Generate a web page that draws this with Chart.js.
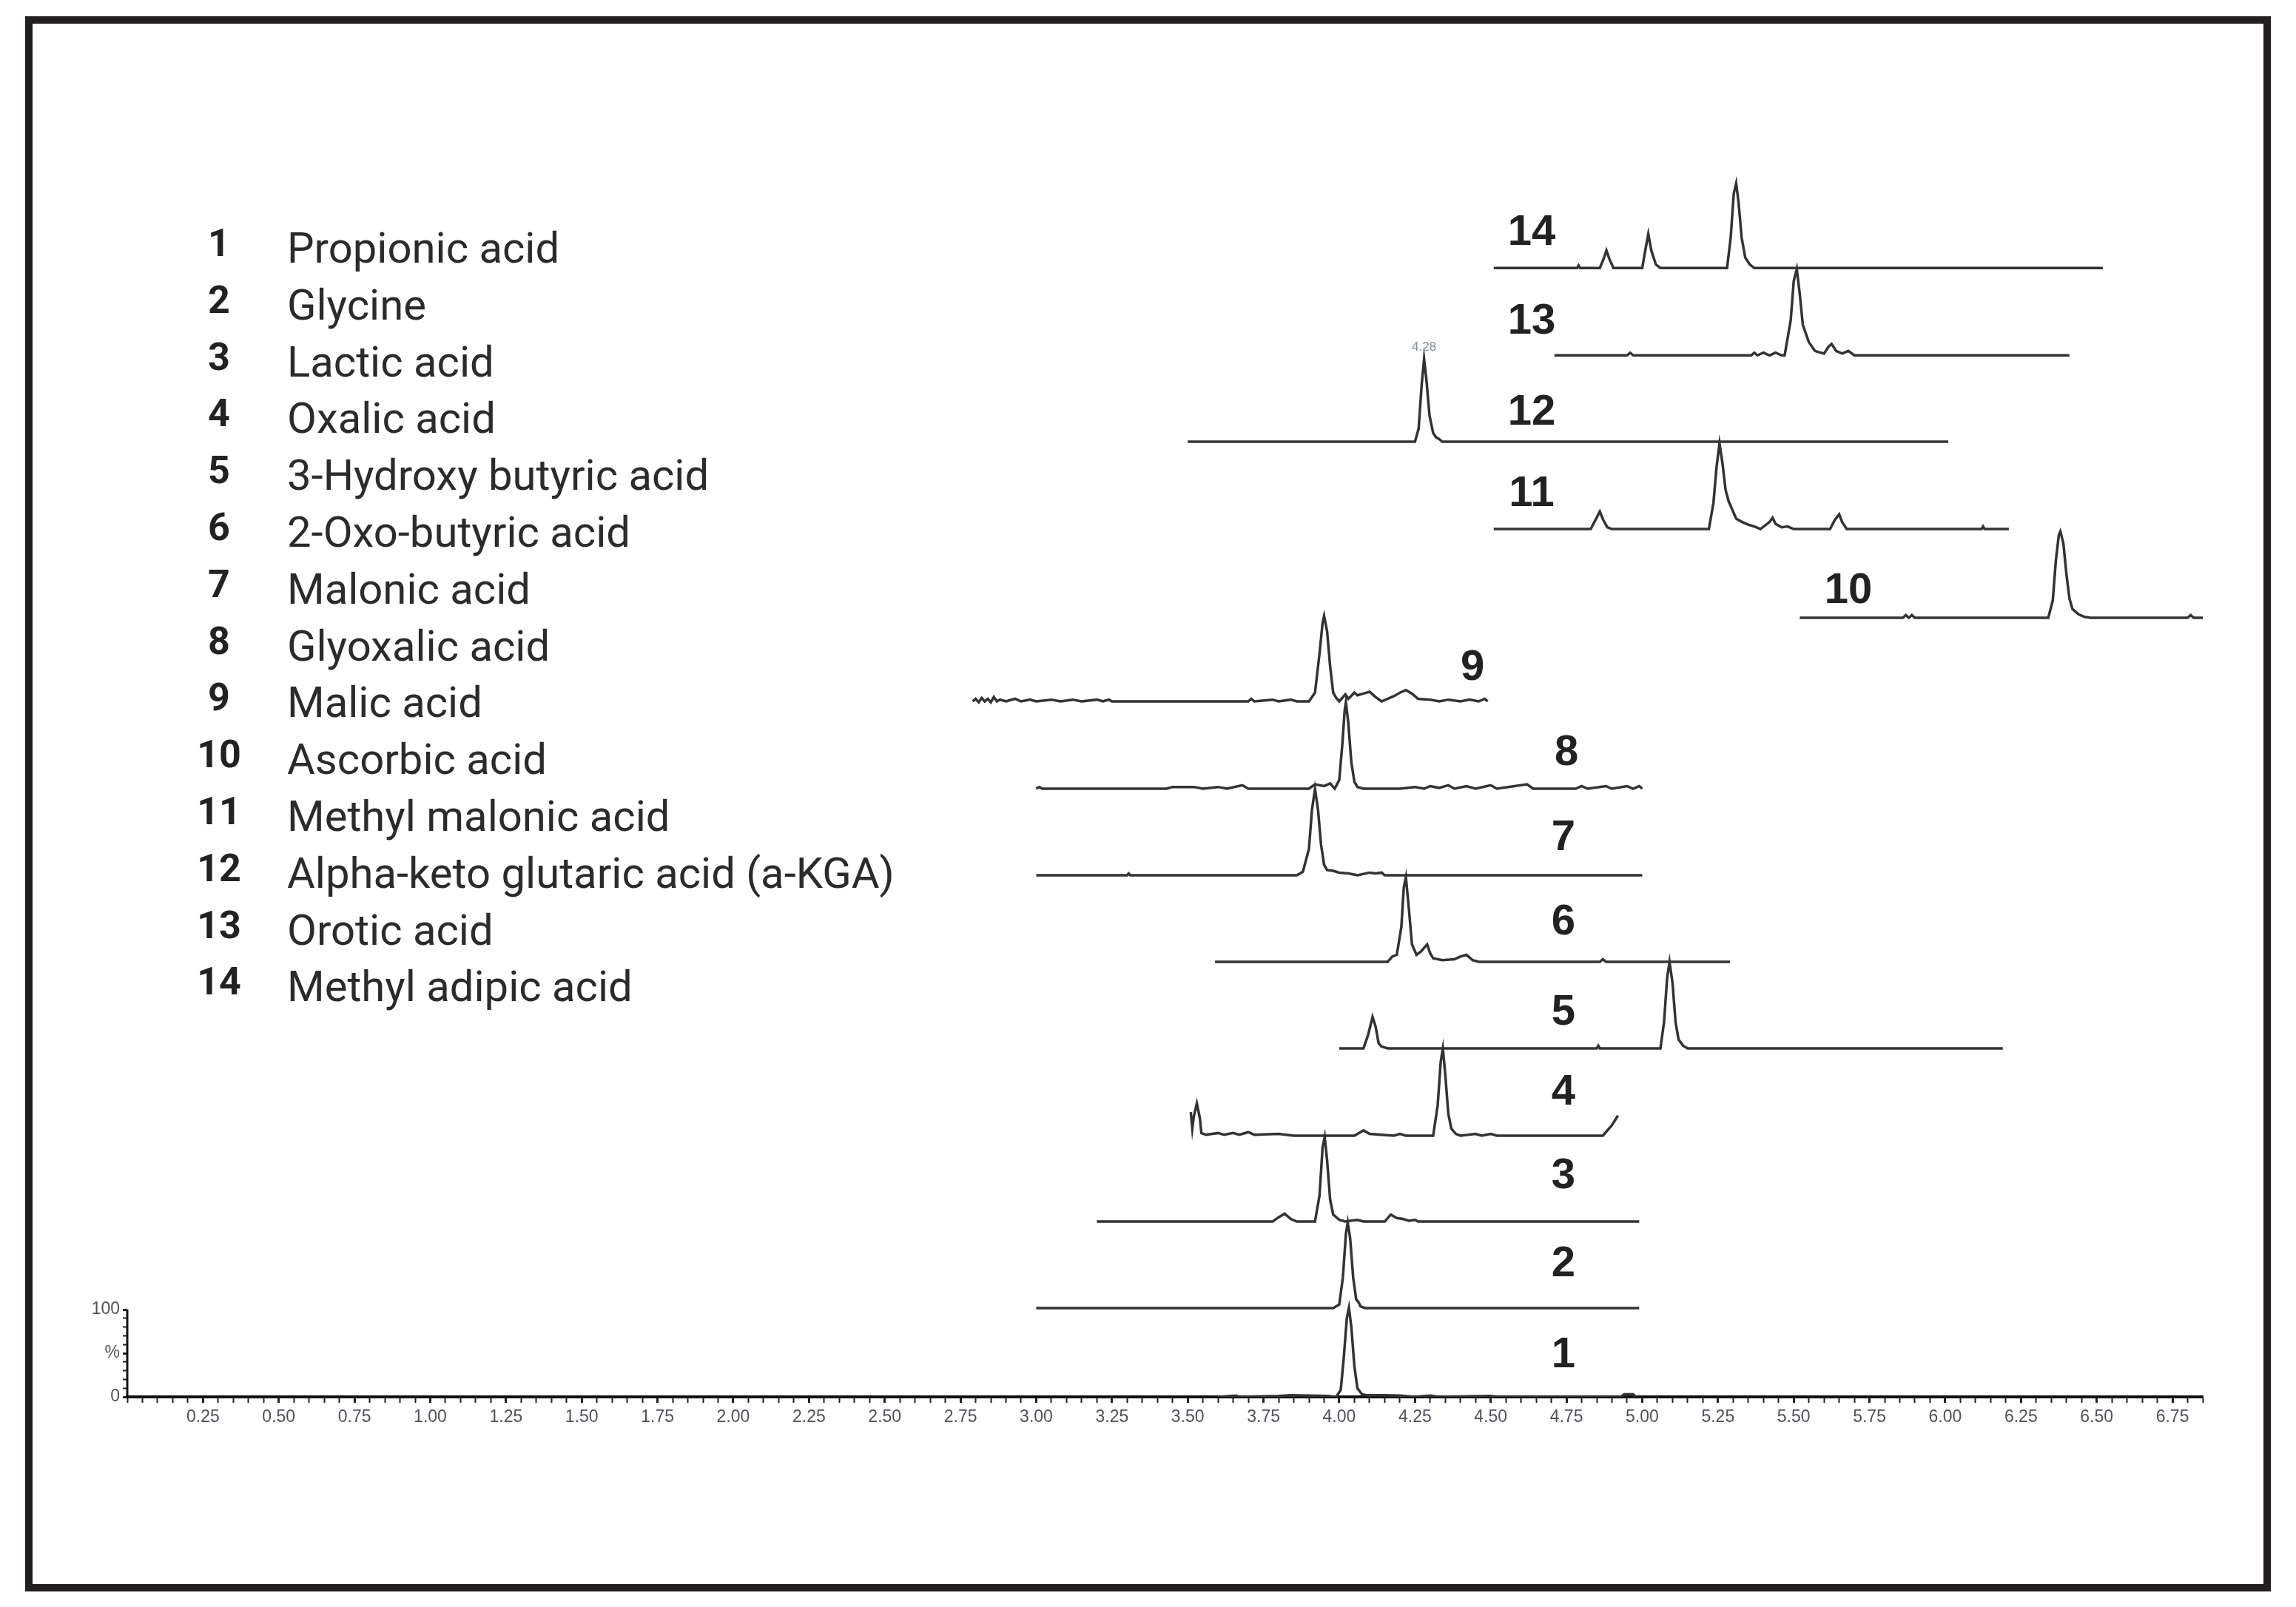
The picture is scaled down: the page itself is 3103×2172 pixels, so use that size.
<!DOCTYPE html>
<html>
<head>
<meta charset="utf-8">
<title>Organic acid chromatograms</title>
<script src="https://cdn.jsdelivr.net/npm/chart.js@4.4.1/dist/chart.umd.min.js"></script>
<style>
  html, body { margin: 0; padding: 0; background: #fff; }
  #frame { position: absolute; left: 34px; top: 22px; width: 3035px; height: 2129px; box-sizing: border-box; border: 10px solid #231f20; }
  #wrap { position: absolute; left: 0; top: 0; width: 3103px; height: 2172px; }
  .num { position: absolute; left: 246px; width: 100px; text-align: center; font: bold 52px Roboto, sans-serif; line-height: 52px; color: #222; white-space: nowrap; }
  .name { position: absolute; left: 388px; font: 58px Roboto, sans-serif; line-height: 58px; color: #2b2b2b; white-space: nowrap; }
</style>
</head>
<body>
<div id="frame"></div>
<div id="legend"></div>
<div id="wrap"><canvas id="chart"></canvas></div>
<script>
// compound names, numbered 1..14 from the bottom trace up
var names = ["Propionic acid", "Glycine", "Lactic acid", "Oxalic acid", "3-Hydroxy butyric acid",
    "2-Oxo-butyric acid", "Malonic acid", "Glyoxalic acid", "Malic acid", "Ascorbic acid",
    "Methyl malonic acid", "Alpha-keto glutaric acid (a-KGA)", "Orotic acid", "Methyl adipic acid"];

// vertical offset of each trace, in % units of the 0-100 scale
var baselines = [0, 101.7, 200.8, 299.2, 399.2, 498.3, 597.5, 696.6, 796.6, 892.4, 994, 1094, 1193, 1293];

// traces: [retention time (min), intensity %]
var propionic = [[3.60,0],[3.66,1.5],[3.67,0],[3.80,1],[3.84,2],[3.90,1.5],[3.96,1],[3.99,0],[4.005,8],[4.015,45],
    [4.025,90],[4.032,102],[4.04,80],[4.05,35],[4.06,10],[4.075,3],[4.09,2],[4.15,2],[4.20,1.5],[4.25,0],[4.30,1.5],
    [4.33,0],[4.50,1],[4.52,0],[4.93,0],[4.94,3],[4.97,3],[4.98,0]];
var glycine = [[3.00,0],[3.98,0],[4.00,4],[4.012,35],[4.022,85],[4.028,98],[4.036,80],[4.046,35],[4.056,10],
    [4.065,6],[4.07,2],[4.085,0],[4.99,0]];
var lactic = [[3.20,0],[3.78,0],[3.80,5],[3.82,9],[3.84,3],[3.86,0],[3.92,0],[3.935,30],[3.945,85],[3.952,97],
    [3.96,70],[3.97,25],[3.98,8],[4.00,2],[4.02,0],[4.06,2],[4.08,0],[4.15,0],[4.17,8],[4.19,4],[4.21,3],[4.23,1],
    [4.25,2],[4.26,0],[4.99,0]];
var oxalic = [[3.51,27],[3.515,8],[3.52,22],[3.53,37],[3.54,20],[3.545,3],[3.56,1],[3.60,3],[3.62,1],[3.65,3],
    [3.67,1],[3.70,4],[3.72,1],[3.80,2],[3.85,0],[4.05,0],[4.08,6],[4.10,2],[4.18,0],[4.20,2],[4.22,0],[4.31,0],
    [4.325,35],[4.335,85],[4.342,100],[4.35,70],[4.36,25],[4.37,8],[4.385,2],[4.40,0],[4.45,2],[4.47,0],[4.50,2],
    [4.52,0],[4.87,0],[4.90,12],[4.92,23]];
var hydroxyButyric = [[4.00,0],[4.08,0],[4.095,15],[4.11,36],[4.12,25],[4.13,6],[4.14,2],[4.16,0],[4.85,0],
    [4.855,3],[4.86,0],[5.06,0],[5.072,30],[5.082,80],[5.09,99],[5.10,75],[5.11,30],[5.12,10],[5.135,3],[5.15,0],
    [6.19,0]];
var oxoButyric = [[3.59,0],[4.16,0],[4.175,6],[4.19,8],[4.205,40],[4.213,85],[4.22,97],[4.23,60],[4.24,20],
    [4.255,8],[4.27,12],[4.29,20],[4.30,10],[4.31,4],[4.34,2],[4.38,3],[4.40,6],[4.42,8],[4.44,2],[4.46,0],
    [4.86,0],[4.87,3],[4.88,0],[5.29,0]];
var malonic = [[3.00,0],[3.30,0],[3.305,2],[3.31,0],[3.86,0],[3.88,4],[3.90,30],[3.91,75],[3.92,99],[3.93,75],
    [3.94,35],[3.95,12],[3.96,6],[3.98,5],[4.00,3],[4.03,2],[4.06,0],[4.10,3],[4.12,2],[4.14,3],[4.15,0],[5.00,0]];
var glyoxalic = [[3.00,0],[3.01,2],[3.02,0],[3.43,0],[3.45,2],[3.52,2],[3.55,0],[3.60,2],[3.63,0],[3.68,4],
    [3.70,0],[3.90,0],[3.92,5],[3.95,3],[3.97,6],[3.985,0],[4.00,10],[4.01,50],[4.018,90],[4.022,99],[4.03,75],
    [4.04,30],[4.05,8],[4.06,2],[4.08,0],[4.20,0],[4.25,2],[4.28,0],[4.30,3],[4.33,1],[4.36,4],[4.38,0],[4.42,3],
    [4.45,0],[4.50,4],[4.52,0],[4.62,5],[4.64,0],[4.78,0],[4.80,3],[4.82,0],[4.88,3],[4.90,0],[4.95,3],[4.97,0],
    [4.99,3],[5.00,0]];
var malic = [[2.79,0],[2.80,3],[2.81,-1],[2.82,4],[2.83,0],[2.84,3],[2.85,-1],[2.86,5],[2.87,0],[2.88,2],[2.90,0],
    [2.93,3],[2.95,0],[2.98,2],[3.00,0],[3.05,2],[3.08,0],[3.12,2],[3.15,0],[3.20,2],[3.22,0],[3.24,2],[3.25,0],
    [3.70,0],[3.71,3],[3.72,0],[3.78,2],[3.80,0],[3.84,2],[3.86,0],[3.90,0],[3.92,10],[3.935,55],[3.945,90],
    [3.95,98],[3.96,80],[3.97,40],[3.98,10],[3.99,4],[4.00,0],[4.02,8],[4.03,3],[4.05,10],[4.06,7],[4.08,9],
    [4.10,11],[4.12,5],[4.14,0],[4.18,6],[4.20,10],[4.22,13],[4.24,9],[4.26,3],[4.30,2],[4.33,0],[4.36,2],[4.40,0],
    [4.43,2],[4.46,0],[4.48,3],[4.49,0]];
var ascorbic = [[5.52,0],[5.86,0],[5.87,3],[5.88,0],[5.89,3],[5.90,0],[6.34,0],[6.355,20],[6.365,65],[6.375,95],
    [6.38,99],[6.39,85],[6.40,50],[6.41,22],[6.42,10],[6.44,4],[6.46,1],[6.48,0],[6.80,0],[6.81,3],[6.82,0],[6.85,0]];
var methylMalonic = [[4.51,0],[4.83,0],[4.845,10],[4.86,20],[4.872,10],[4.885,2],[4.90,0],[5.22,0],[5.235,30],
    [5.245,70],[5.255,98],[5.265,75],[5.275,45],[5.285,32],[5.30,20],[5.31,12],[5.33,8],[5.35,5],[5.37,3],[5.39,0],
    [5.42,8],[5.43,13],[5.44,6],[5.46,2],[5.48,3],[5.50,0],[5.62,0],[5.635,10],[5.65,17],[5.66,8],[5.675,0],
    [6.12,0],[6.125,3],[6.13,0],[6.21,0]];
var akga = [[3.50,0],[4.25,0],[4.262,15],[4.272,65],[4.28,95],[4.288,70],[4.298,30],[4.31,10],[4.32,5],[4.33,3],
    [4.34,0],[6.01,0]];
var orotic = [[4.71,0],[4.95,0],[4.96,3],[4.97,0],[5.36,0],[5.37,3],[5.38,0],[5.40,3],[5.42,0],[5.44,3],[5.46,0],
    [5.47,0],[5.49,40],[5.50,85],[5.51,99],[5.52,70],[5.53,35],[5.55,15],[5.57,5],[5.60,2],[5.615,10],[5.625,13],
    [5.64,5],[5.66,2],[5.68,5],[5.70,0],[6.41,0]];
var methylAdipic = [[4.51,0],[4.785,0],[4.79,3],[4.795,0],[4.86,0],[4.872,10],[4.882,20],[4.892,10],[4.905,0],
    [5.00,0],[5.01,20],[5.02,39],[5.03,20],[5.045,4],[5.06,0],[5.28,0],[5.292,35],[5.302,85],[5.31,97],[5.318,75],
    [5.328,35],[5.34,12],[5.355,4],[5.37,0],[6.52,0]];

var traces = [propionic, glycine, lactic, oxalic, hydroxyButyric, oxoButyric, malonic, glyoxalic, malic,
    ascorbic, methylMalonic, akga, orotic, methylAdipic];

// axis ticks
var xTickLabels = ["0.25", "0.50", "0.75", "1.00", "1.25", "1.50", "1.75", "2.00", "2.25", "2.50", "2.75",
    "3.00", "3.25", "3.50", "3.75", "4.00", "4.25", "4.50", "4.75", "5.00", "5.25", "5.50", "5.75", "6.00",
    "6.25", "6.50", "6.75"];
var yTickValues = [0, 10, 20, 30, 40, 50, 60, 70, 80, 90, 100];
var yTickLabels = {0: "0", 50: "%", 100: "100"};

// where the trace numbers sit (x in min, y in % units)
var numberSpots = [[4.74,47.5],[4.74,151.7],[4.74,252.5],[4.74,348],[4.74,440],[4.74,543],[4.74,640],[4.75,737],
    [4.44,835],[5.68,923],[4.635,1034],[4.635,1127.5],[4.635,1231],[4.635,1333]];
var peakTag = {x: 4.28, y: 1202, text: "4.28"};

// legend list
var legend = document.getElementById("legend");
for (var i = 0; i < names.length; i++) {
    var base = 355 + i * 76.8;
    var n = document.createElement("div");
    n.className = "num";
    n.style.top = (base - 8 - 44) + "px";
    n.textContent = String(i + 1);
    var t = document.createElement("div");
    t.className = "name";
    t.style.top = (base - 49) + "px";
    t.textContent = names[i];
    legend.appendChild(n);
    legend.appendChild(t);
}

var datasets = traces.map(function(pts, i) {
    return {
        label: names[i],
        data: pts.map(function(p) { return {x: p[0], y: p[1] + baselines[i]}; }),
        borderColor: "#333",
        borderWidth: 3.5,
        pointRadius: 0,
        tension: 0,
        fill: false
    };
});
// short intensity axis (0-100 %)
datasets.push({
    label: "axis",
    data: [{x: 0, y: 0}, {x: 0, y: 100}],
    borderColor: "#111",
    borderWidth: 3,
    pointRadius: 0,
    clip: false
});

var traceNumbers = {
    id: "traceNumbers",
    afterDatasetsDraw: function(chart) {
        var ctx = chart.ctx, xs = chart.scales.x, ys = chart.scales.y;
        ctx.save();
        ctx.font = "bold 58px 'Liberation Sans', Arial, sans-serif";
        ctx.fillStyle = "#222";
        ctx.textAlign = "center";
        ctx.textBaseline = "middle";
        for (var i = 0; i < numberSpots.length; i++) {
            ctx.fillText(String(i + 1), xs.getPixelForValue(numberSpots[i][0]), ys.getPixelForValue(numberSpots[i][1]));
        }
        ctx.font = "17px 'Liberation Sans', Arial, sans-serif";
        ctx.fillStyle = "#7f8c99";
        ctx.fillText(peakTag.text, xs.getPixelForValue(peakTag.x), ys.getPixelForValue(peakTag.y));
        ctx.restore();
    }
};

function isMajor(v) {
    return xTickLabels.indexOf(Number(v).toFixed(2)) >= 0;
}

new Chart(document.getElementById("chart").getContext("2d"), {
    type: "line",
    data: {datasets: datasets},
    options: {
        responsive: true,
        maintainAspectRatio: false,
        devicePixelRatio: 1,
        animation: false,
        layout: {padding: {left: 112, right: 126, top: 236, bottom: 224}},
        plugins: {legend: {display: false}, tooltip: {enabled: false}},
        scales: {
            x: {
                type: "linear",
                min: 0,
                max: 6.85,
                afterFit: function(s) { s.height = 60; },
                border: {display: true, color: "#111", width: 4},
                grid: {
                    drawOnChartArea: false,
                    tickLength: 8,
                    tickColor: "#222",
                    tickWidth: function(c) { return c.tick && isMajor(c.tick.value) ? 3 : 2; }
                },
                ticks: {
                    stepSize: 0.05,
                    autoSkip: false,
                    maxRotation: 0,
                    padding: 6,
                    color: "#50505e",
                    font: {family: "'Liberation Sans', Arial, sans-serif", size: 23},
                    callback: function(v) { return isMajor(v) ? Number(v).toFixed(2) : ""; }
                }
            },
            y: {
                type: "linear",
                min: 0,
                max: 1400,
                afterFit: function(s) { s.width = 60; },
                afterBuildTicks: function(s) {
                    s.ticks = yTickValues.map(function(v) { return {value: v}; });
                },
                border: {display: false},
                grid: {
                    drawOnChartArea: false,
                    tickLength: 6,
                    tickColor: "#222",
                    tickWidth: function(c) { return c.tick && yTickLabels[c.tick.value] ? 3 : 2; }
                },
                ticks: {
                    autoSkip: false,
                    padding: 4,
                    color: "#50505e",
                    font: {family: "'Liberation Sans', Arial, sans-serif", size: 23},
                    callback: function(v) { return yTickLabels[v] || ""; }
                }
            }
        }
    },
    plugins: [traceNumbers]
});
</script>
</body>
</html>
